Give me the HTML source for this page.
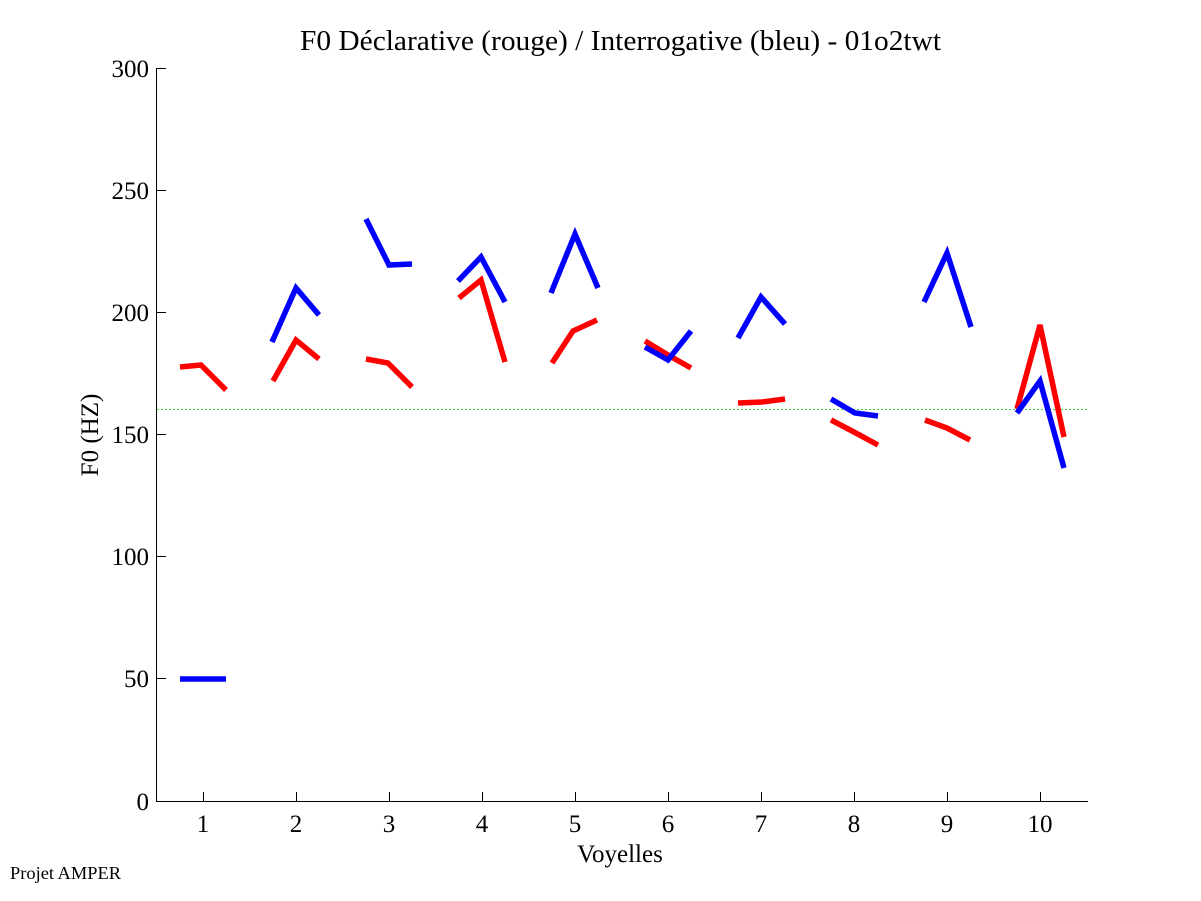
<!DOCTYPE html>
<html>
<head>
<meta charset="utf-8">
<style>
html,body{margin:0;padding:0;background:#fff;}
svg{display:block;}
text{font-family:"Liberation Serif","Times New Roman",serif;fill:#000;}
</style>
</head>
<body>
<svg width="1201" height="901" viewBox="0 0 1201 901" xmlns="http://www.w3.org/2000/svg">
<rect width="1201" height="901" fill="#fff"/>
<!-- title -->
<text x="300" y="50" font-size="29" textLength="641" lengthAdjust="spacingAndGlyphs">F0 Déclarative (rouge) / Interrogative (bleu) - 01o2twt</text>
<!-- axes -->
<g stroke="#000" stroke-width="1" fill="none" shape-rendering="crispEdges">
<line x1="156.5" y1="68" x2="156.5" y2="802"/>
<line x1="156" y1="801.5" x2="1088" y2="801.5"/>
<!-- y ticks -->
<line x1="157" y1="68.5" x2="166" y2="68.5"/>
<line x1="157" y1="190.5" x2="166" y2="190.5"/>
<line x1="157" y1="312.5" x2="166" y2="312.5"/>
<line x1="157" y1="434.5" x2="166" y2="434.5"/>
<line x1="157" y1="556.5" x2="166" y2="556.5"/>
<line x1="157" y1="678.5" x2="166" y2="678.5"/>
<!-- x ticks -->
<line x1="203.5" y1="801" x2="203.5" y2="792"/>
<line x1="296.5" y1="801" x2="296.5" y2="792"/>
<line x1="389.5" y1="801" x2="389.5" y2="792"/>
<line x1="482.5" y1="801" x2="482.5" y2="792"/>
<line x1="575.5" y1="801" x2="575.5" y2="792"/>
<line x1="668.5" y1="801" x2="668.5" y2="792"/>
<line x1="761.5" y1="801" x2="761.5" y2="792"/>
<line x1="854.5" y1="801" x2="854.5" y2="792"/>
<line x1="947.5" y1="801" x2="947.5" y2="792"/>
<line x1="1040.5" y1="801" x2="1040.5" y2="792"/>
</g>
<!-- y tick labels -->
<g font-size="25" text-anchor="end">
<text x="149" y="77">300</text>
<text x="149" y="199">250</text>
<text x="149" y="321">200</text>
<text x="149" y="443">150</text>
<text x="149" y="565">100</text>
<text x="149" y="687">50</text>
<text x="149" y="810">0</text>
</g>
<!-- x tick labels -->
<g font-size="25" text-anchor="middle">
<text x="203" y="832">1</text>
<text x="296" y="832">2</text>
<text x="389" y="832">3</text>
<text x="482" y="832">4</text>
<text x="575" y="832">5</text>
<text x="668" y="832">6</text>
<text x="761" y="832">7</text>
<text x="854" y="832">8</text>
<text x="947" y="832">9</text>
<text x="1040" y="832">10</text>
</g>
<!-- axis labels -->
<text x="620" y="862" font-size="25" text-anchor="middle">Voyelles</text>
<text transform="translate(98,435) rotate(-90)" font-size="25" text-anchor="middle">F0 (HZ)</text>
<text x="10" y="879" font-size="18" textLength="111" lengthAdjust="spacingAndGlyphs">Projet AMPER</text>
<!-- green dotted reference -->
<line x1="157" y1="409.5" x2="1087" y2="409.5" stroke="#33dd33" stroke-width="1" stroke-dasharray="2,2" shape-rendering="crispEdges"/>
<!-- red series -->
<g stroke="#ff0000" stroke-width="5.5" fill="none" stroke-linejoin="miter" stroke-linecap="butt">
<polyline points="180,367 201,365 226,390"/>
<polyline points="273,381 296,340 319,359"/>
<polyline points="366,359 388,363 412,387"/>
<polyline points="459,298 481,280 505,362"/>
<polyline points="552,363 573,331 597,320"/>
<polyline points="645,341 668,355 691,368"/>
<polyline points="738,403 762,402 785,399"/>
<polyline points="831,420 854,432 878,445"/>
<polyline points="925,420 947,428 970,440"/>
<polyline points="1017,409 1040,325 1064,437"/>
</g>
<!-- blue series -->
<g stroke="#0000ff" stroke-width="5.5" fill="none" stroke-linejoin="miter" stroke-linecap="butt">
<polyline points="180,679 226,679"/>
<polyline points="272,342 296,288 319,315"/>
<polyline points="366,219 389,265 412,264"/>
<polyline points="458,281 481,257 505,302"/>
<polyline points="551,293 575,234 598,288"/>
<polyline points="645,347 668,360 691,331"/>
<polyline points="738,338 761,297 785,324"/>
<polyline points="831,399 855,413 878,416"/>
<polyline points="924,302 947,253 971,327"/>
<polyline points="1017,413 1040,381 1064,468"/>
</g>
</svg>
</body>
</html>
